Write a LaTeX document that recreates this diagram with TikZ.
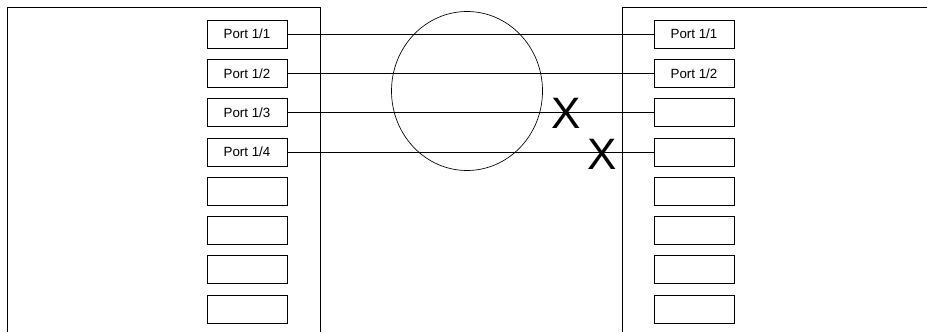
\documentclass[tikz,border=0pt]{standalone}
\usepackage{fontspec}
\setmainfont{Liberation Sans}
\usepackage{tikz}
\usetikzlibrary{calc}

\tikzset{
	portbox/.style={draw,line width=0.6pt,minimum width=60pt,minimum height=21pt,inner sep=0pt,font=\fontsize{10}{12}\selectfont},
	chassis/.style={line width=0.6pt},
	link/.style={line width=0.6pt},
	failmark/.style={inner sep=0pt,font=\fontsize{33}{33}\selectfont}
}

\begin{document}
\begin{tikzpicture}[x=0.75pt,y=-0.75pt]
		
		\useasboundingbox (0,0) rectangle (927,332);
		
		% Parameters
		\def\dy{39.3}   % port spacing
		\def\ytop{34}   % first port
		
		% Chassis outlines (open at the bottom)
		\draw[chassis] (7,332) -- (7,7) -- (320,7) -- (320,332);
		\draw[chassis] (927,7) -- (622,7) -- (622,332);
		
		% Port boxes
		\foreach \i in {1,...,8}{
			\node[portbox] (lport\i) at (247,{\ytop+(\i-1)*\dy}) {};
			\node[portbox] (rport\i) at (694,{\ytop+(\i-1)*\dy}) {};
		}
		\foreach \i in {1,...,4}
			\node at (lport\i) [font=\fontsize{10}{12}\selectfont] {Port 1/\i};
		\foreach \i in {1,2}
			\node at (rport\i) [font=\fontsize{10}{12}\selectfont] {Port 1/\i};
		
		% Links between the two chassis
		\foreach \i in {1,...,4}
			\draw[link] (lport\i.east) -- (rport\i.west);
		
		% Bundle circle
		\draw[line width=0.5pt] (467,91) ellipse (75.5 and 79.5);
		
		% Broken links
		\node[failmark] (fail3) at (566,113) {X};
		\node[failmark] (fail4) at (602,154) {X};
		
	\end{tikzpicture}
\end{document}
